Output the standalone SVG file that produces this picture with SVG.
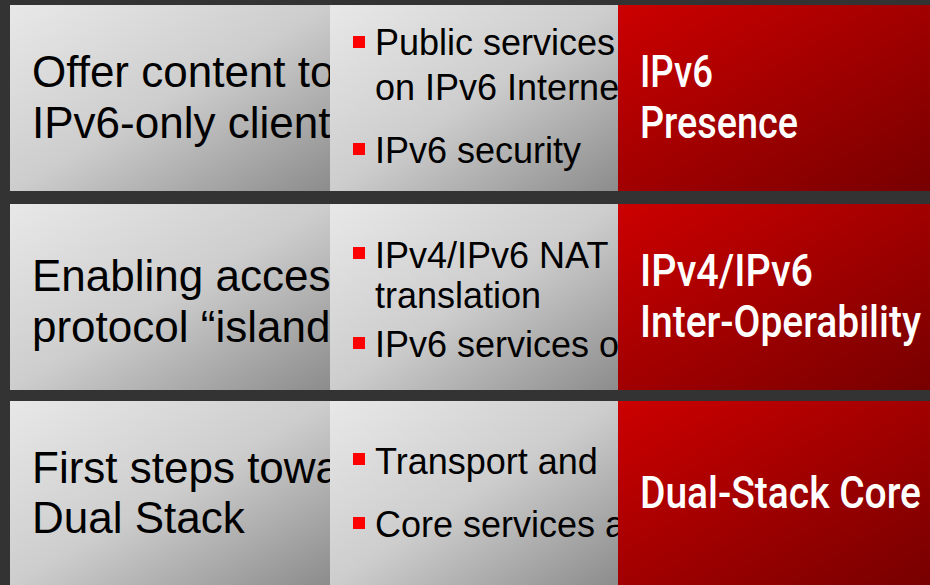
<svg xmlns="http://www.w3.org/2000/svg" width="930" height="585" viewBox="0 0 930 585">
<defs>
<linearGradient id="gray" x1="0" y1="0" x2="1" y2="1">
<stop offset="0" stop-color="#e8e8e8"/>
<stop offset="0.5" stop-color="#cdcdcd"/>
<stop offset="1" stop-color="#8c8c8c"/>
</linearGradient>
<linearGradient id="red" x1="0" y1="0" x2="1" y2="1">
<stop offset="0" stop-color="#cc0000"/>
<stop offset="1" stop-color="#770000"/>
</linearGradient>
<clipPath id="c1l"><rect x="10" y="5" width="320" height="186"/></clipPath>
<clipPath id="c1m"><rect x="330" y="5" width="288" height="186"/></clipPath>
<clipPath id="c2l"><rect x="10" y="204" width="320" height="186"/></clipPath>
<clipPath id="c2m"><rect x="330" y="204" width="288" height="186"/></clipPath>
<clipPath id="c3l"><rect x="10" y="401" width="320" height="184"/></clipPath>
<clipPath id="c3m"><rect x="330" y="401" width="288" height="184"/></clipPath>
<style>
.gp{fill:url(#gray)}
.rp{fill:url(#red)}
.lt{font-family:"Liberation Sans",Arial,sans-serif;font-size:44px;fill:#000}
.mt{font-family:"Liberation Sans",Arial,sans-serif;font-size:36px;fill:#000}
.rt{font-family:Roboto,"Liberation Sans",sans-serif;font-weight:500;font-size:44px;fill:#fff}
.b{fill:#ff0000}
</style>
</defs>
<rect width="930" height="585" fill="#333333"/>

<g id="row1-left">
<rect class="gp" x="10" y="5" width="320" height="186"/>
<g clip-path="url(#c1l)">
<text class="lt" x="32" y="87">Offer content to</text>
<text class="lt" x="32" y="138">IPv6-only clients</text>
</g>
</g>
<g id="row1-middle">
<rect class="gp" x="330" y="5" width="288" height="186"/>
<rect class="b" x="353" y="36" width="12" height="12"/>
<rect class="b" x="353" y="143" width="12" height="12"/>
<g clip-path="url(#c1m)">
<text class="mt" x="375" y="55">Public services</text>
<text class="mt" x="375" y="100">on IPv6 Internet</text>
<text class="mt" x="375" y="163">IPv6 security</text>
</g>
</g>
<g id="row1-right">
<rect class="rp" x="618" y="5" width="312" height="186"/>
<text class="rt" x="640" y="87" textLength="73" lengthAdjust="spacingAndGlyphs">IPv6</text>
<text class="rt" x="640" y="138" textLength="158" lengthAdjust="spacingAndGlyphs">Presence</text>
</g>

<g id="row2-left">
<rect class="gp" x="10" y="204" width="320" height="186"/>
<g clip-path="url(#c2l)">
<text class="lt" x="32" y="291">Enabling access</text>
<text class="lt" x="32" y="342">protocol “islands”</text>
</g>
</g>
<g id="row2-middle">
<rect class="gp" x="330" y="204" width="288" height="186"/>
<rect class="b" x="353" y="247" width="12" height="12"/>
<rect class="b" x="353" y="337" width="12" height="12"/>
<g clip-path="url(#c2m)">
<text class="mt" x="375" y="268">IPv4/IPv6 NAT</text>
<text class="mt" x="375" y="308">translation</text>
<text class="mt" x="375" y="357">IPv6 services on</text>
</g>
</g>
<g id="row2-right">
<rect class="rp" x="618" y="204" width="312" height="186"/>
<text class="rt" x="640" y="286" textLength="173" lengthAdjust="spacingAndGlyphs">IPv4/IPv6</text>
<text class="rt" x="640" y="337" textLength="281" lengthAdjust="spacingAndGlyphs">Inter-Operability</text>
</g>

<g id="row3-left">
<rect class="gp" x="10" y="401" width="320" height="184"/>
<g clip-path="url(#c3l)">
<text class="lt" x="32" y="483">First steps towards</text>
<text class="lt" x="32" y="533">Dual Stack</text>
</g>
</g>
<g id="row3-middle">
<rect class="gp" x="330" y="401" width="288" height="184"/>
<rect class="b" x="353" y="453" width="12" height="12"/>
<rect class="b" x="353" y="517" width="12" height="12"/>
<g clip-path="url(#c3m)">
<text class="mt" x="375" y="474">Transport and</text>
<text class="mt" x="375" y="537">Core services a</text>
</g>
</g>
<g id="row3-right">
<rect class="rp" x="618" y="401" width="312" height="184"/>
<text class="rt" x="640" y="508" textLength="281" lengthAdjust="spacingAndGlyphs">Dual-Stack Core</text>
</g>

<g id="connectors"/>
</svg>
